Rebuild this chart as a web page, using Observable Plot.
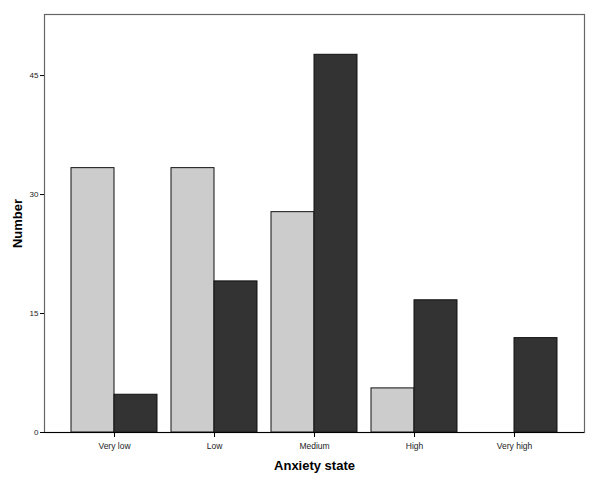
<!DOCTYPE html>
<html>
<head>
<meta charset="utf-8">
<script src="https://cdn.jsdelivr.net/npm/d3@7"></script>
<script src="https://cdn.jsdelivr.net/npm/@observablehq/plot@0.6"></script>
<style>
  body { margin: 0; background: #fff; }
  #chart svg { font-family: "Liberation Sans", Arial, sans-serif; }
  #chart [aria-label="y-axis label"] text, #chart [aria-label="x-axis label"] text { font-weight: bold; font-size: 13px; fill: #000; }
  #chart [aria-label="y-axis tick label"] text, #chart [aria-label="x-axis tick label"] text { fill: #222; }
</style>
</head>
<body>
<div id="chart"></div>
<script>
const categories = ["Very low", "Low", "Medium", "High", "Very high"];
const lightValues = [33.33, 33.33, 27.78, 5.56, 0];
const darkValues = [4.76, 19.05, 47.62, 16.67, 11.90];
const yTicks = [0, 15, 30, 45];

const lightData = categories.map((c, i) => ({category: c, value: lightValues[i]}));
const darkData = categories.map((c, i) => ({category: c, value: darkValues[i]}));

const width = 600, height = 482;
const marginLeft = 44, marginRight = 16, marginTop = 14, marginBottom = 50;
const step = (width - marginLeft - marginRight) / (categories.length - 0.14 + 2 * 0.27);
const half = step * 0.86 / 2;

const chart = Plot.plot({
  width, height, marginLeft, marginRight, marginTop, marginBottom,
  style: {fontFamily: "Liberation Sans, Arial, sans-serif", background: "#fff"},
  x: {domain: categories, type: "band", paddingInner: 0.14, paddingOuter: 0.27, label: null},
  y: {domain: [0, 52.7], label: null},
  marks: [
    Plot.barY(lightData, {x: "category", y: "value", fill: "#cccccc", stroke: "#111", strokeWidth: 1, insetRight: half, insetLeft: 0}),
    Plot.barY(darkData, {x: "category", y: "value", fill: "#333333", stroke: "#111", strokeWidth: 1, insetLeft: half, insetRight: 0}),
    Plot.frame({stroke: "#666", strokeWidth: 1.2}),
    Plot.ruleY([0], {stroke: "#000", strokeWidth: 1.2}),
    Plot.axisY({ticks: yTicks, tickSize: 4, tickPadding: 2, fontSize: 8, label: "Number", labelAnchor: "center", labelArrow: "none", labelOffset: 32}),
    Plot.axisX({tickSize: 5, tickPadding: 5, fontSize: 8.5, label: "Anxiety state", labelAnchor: "center", labelArrow: "none", labelOffset: 37})
  ]
});
document.getElementById("chart").append(chart);
</script>
</body>
</html>
